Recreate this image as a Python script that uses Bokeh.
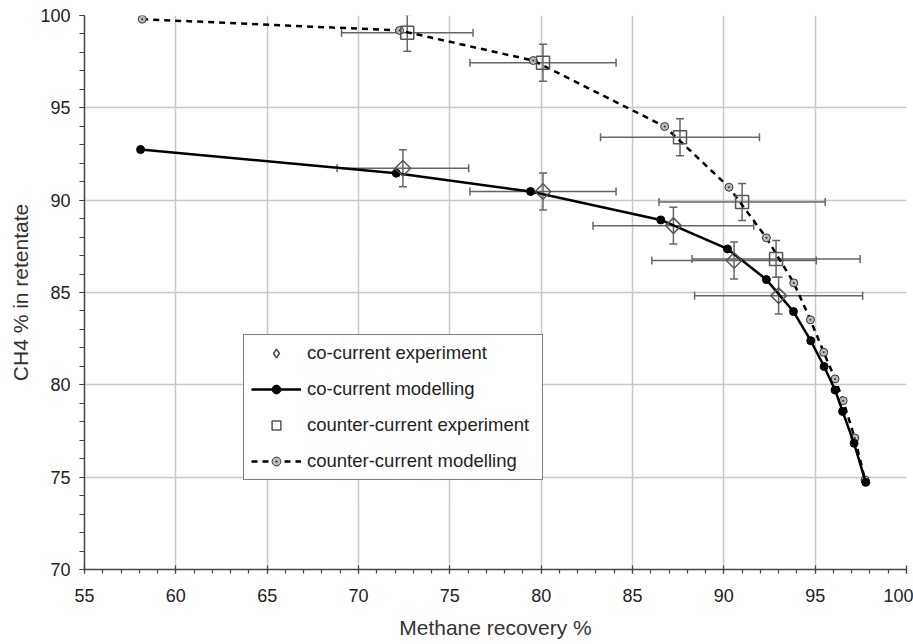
import math
from bokeh.plotting import figure
from bokeh.models import (Range1d, Whisker, ColumnDataSource, Legend, LegendItem,
                          TeeHead, SingleIntervalTicker)
from bokeh.embed import file_html
from bokeh.resources import INLINE

# ---- data ----
co_model_x = [58.07, 72.07, 79.42, 86.55, 90.20, 92.33, 93.81, 94.76, 95.49, 96.09, 96.50, 97.13, 97.77]
co_model_y = [92.74, 91.46, 90.47, 88.93, 87.36, 85.70, 83.97, 82.39, 80.99, 79.72, 78.56, 76.83, 74.72]

cc_model_x = [58.16, 72.25, 79.57, 86.76, 90.28, 92.33, 93.83, 94.74, 95.47, 96.09, 96.53, 97.17, 97.73]
cc_model_y = [99.80, 99.19, 97.56, 93.99, 90.70, 87.96, 85.52, 83.52, 81.76, 80.32, 79.14, 77.12, 74.85]

co_exp_x = [72.43, 80.10, 87.24, 90.56, 93.00]
co_exp_y = [91.73, 90.47, 88.62, 86.73, 84.83]
co_exp_xerr = [3.6, 4.0, 4.4, 4.5, 4.6]
co_exp_yerr = [1.0, 1.0, 1.0, 1.0, 1.0]

cc_exp_x = [72.67, 80.10, 87.60, 91.00, 92.86]
cc_exp_y = [99.06, 97.44, 93.41, 89.90, 86.82]
cc_exp_xerr = [3.6, 4.0, 4.35, 4.55, 4.6]
cc_exp_yerr = [1.0, 1.0, 1.0, 1.0, 1.0]

FONT = "Liberation Sans"

p = figure(width=913, height=644, output_backend="svg", toolbar_location=None,
           x_range=Range1d(55, 100), y_range=Range1d(70, 100),
           min_border_left=84, min_border_right=7, min_border_top=15, min_border_bottom=75)
p.outline_line_color = None

# axes
p.xaxis.ticker = SingleIntervalTicker(interval=5, num_minor_ticks=5)
p.yaxis.ticker = SingleIntervalTicker(interval=5, num_minor_ticks=5)
for ax in (p.xaxis[0], p.yaxis[0]):
    ax.axis_line_color = "#444444"
    ax.axis_line_width = 1.5
    ax.major_tick_line_color = "#444444"
    ax.minor_tick_line_color = "#444444"
    ax.major_tick_line_width = 1.2
    ax.minor_tick_line_width = 1.2
    ax.major_label_text_font = FONT
    ax.major_label_text_font_size = "18px"
    ax.major_label_text_color = "#222222"
    ax.axis_label_text_font = FONT
    ax.axis_label_text_font_size = "21px"
    ax.axis_label_text_font_style = "normal"
    ax.axis_label_text_color = "#333333"

p.xaxis.major_tick_in = 4
p.xaxis.major_tick_out = 4
p.xaxis.minor_tick_in = 0
p.xaxis.minor_tick_out = 4
p.xaxis.major_label_standoff = 15
p.xaxis.axis_label = "Methane recovery %"
p.xaxis.axis_label_standoff = 11

p.yaxis.major_tick_in = 0
p.yaxis.major_tick_out = 5
p.yaxis.minor_tick_in = 0
p.yaxis.minor_tick_out = 5
p.yaxis.major_label_standoff = 9
p.yaxis.axis_label = "CH4 % in retentate"
p.yaxis.axis_label_standoff = 5

p.xgrid.grid_line_color = "#c8c8c8"
p.ygrid.grid_line_color = "#c8c8c8"
p.xgrid.grid_line_width = 1.5
p.ygrid.grid_line_width = 1.5

# error bars
err_col = "#666666"
def add_errors(xs, ys, xe, ye):
    src = ColumnDataSource(dict(
        x=xs, y=ys,
        xl=[a - b for a, b in zip(xs, xe)], xu=[a + b for a, b in zip(xs, xe)],
        yl=[a - b for a, b in zip(ys, ye)], yu=[a + b for a, b in zip(ys, ye)]))
    for dim, base, lo, up in (("width", "y", "xl", "xu"), ("height", "x", "yl", "yu")):
        w = Whisker(source=src, base=base, lower=lo, upper=up, dimension=dim,
                    line_color=err_col, line_width=1.5,
                    upper_head=TeeHead(size=8, line_color=err_col, line_width=1.5),
                    lower_head=TeeHead(size=8, line_color=err_col, line_width=1.5))
        p.add_layout(w)

add_errors(co_exp_x, co_exp_y, co_exp_xerr, co_exp_yerr)
add_errors(cc_exp_x, cc_exp_y, cc_exp_xerr, cc_exp_yerr)

# modelling curves
cc_line = p.line(cc_model_x, cc_model_y, line_color="black", line_width=2.5, line_dash="6 5")
cc_pts = p.scatter(cc_model_x, cc_model_y, marker="circle_dot", size=8,
                   fill_color="#bbbbbb", line_color="#333333", line_width=1)
co_line = p.line(co_model_x, co_model_y, line_color="black", line_width=2.5)
co_pts = p.scatter(co_model_x, co_model_y, marker="circle", size=8,
                   fill_color="black", line_color="black")

# experiments
co_exp = p.scatter(co_exp_x, co_exp_y, marker="square", size=11, angle=math.pi / 4,
                   fill_color=None, line_color="#555555", line_width=1.5)
cc_exp = p.scatter(cc_exp_x, cc_exp_y, marker="square", size=13,
                   fill_color=None, line_color="#555555", line_width=1.5)

# legend key for the diamond symbol (legend glyphs are drawn unrotated);
# zero size so it adds nothing to the plot itself
co_exp_key = p.scatter(co_exp_x, co_exp_y, marker="diamond", size=0,
                       fill_color=None, line_color="#444444", line_width=1.5)

legend = Legend(items=[
    LegendItem(label="co-current experiment", renderers=[co_exp_key]),
    LegendItem(label="co-current modelling", renderers=[co_line, co_pts]),
    LegendItem(label="counter-current experiment", renderers=[cc_exp]),
    LegendItem(label="counter-current modelling", renderers=[cc_line, cc_pts]),
], location=(159, 89))
legend.border_line_color = "black"
legend.border_line_width = 1.5
legend.background_fill_color = "white"
legend.background_fill_alpha = 1.0
legend.label_text_font = FONT
legend.label_text_font_size = "18.5px"
legend.label_text_color = "#222222"
legend.glyph_width = 50
legend.glyph_height = 22
legend.label_height = 22
legend.label_width = 228
legend.spacing = 14
legend.padding = 7
legend.margin = 0
legend.label_standoff = 6
p.add_layout(legend, "center")

open("out.html", "w").write(file_html(p, INLINE))
